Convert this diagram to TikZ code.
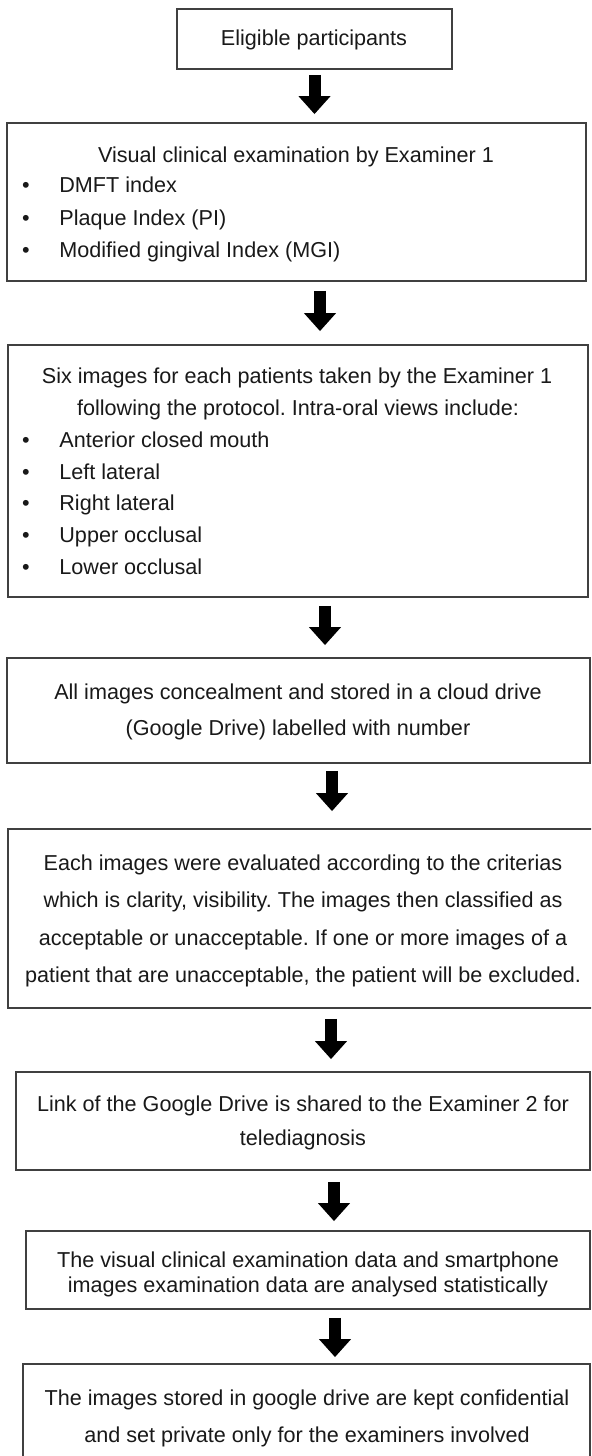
\documentclass[tikz,border=0pt]{standalone}
\usepackage{fontspec}
\setmainfont{Liberation Sans}
\usetikzlibrary{arrows.meta,calc}
\frenchspacing
\begin{document}
\begin{tikzpicture}[x=0.5pt,y=-0.5pt,
  box/.style={draw=black!75, line width=0.9pt, rectangle, inner sep=0pt},
  txt/.style={anchor=base, inner sep=0pt, text=black!90, font=\fontsize{10.8}{13}\selectfont},
  ltxt/.style={txt, anchor=base west},
  bul/.style={txt},
  bigarrow/.style={line width=6pt, black, -{Triangle[width=15.5pt,length=9pt]}}]
\useasboundingbox (0,0) rectangle (591,1456);
\clip (0,0) rectangle (591,1456);
\fill[white] (0,0) rectangle (591,1456);

% boxes
\node[box, minimum width=137.5pt, minimum height=30pt] (b1) at (314.5,39) {};
\node[box, minimum width=289.5pt, minimum height=79pt] (b2) at (296.5,202) {};
\node[box, minimum width=290pt, minimum height=126pt] (b3) at (298,471) {};
\node[box, minimum width=291.5pt, minimum height=52.5pt] (b4) at (298.5,710.5) {};
\node[box, minimum width=296pt, minimum height=89.5pt] (b5) at (304,918.5) {};
\node[box, minimum width=287pt, minimum height=49pt] (b6) at (303,1121) {};
\node[box, minimum width=282pt, minimum height=39pt] (b7) at (308,1270) {};
\node[box, minimum width=283.5pt, minimum height=52pt] (b8) at (306.5,1416) {};

% texts
\node[txt] (t1) at (314,45) {Eligible participants};

\node[txt] (t2) at (296,162) {Visual clinical examination by Examiner 1};
\node[bul] (t2b1) at (26,192) {\textbullet};
\node[ltxt] (t2l1) at (59,192) {DMFT index};
\node[bul] (t2b2) at (26,225) {\textbullet};
\node[ltxt] (t2l2) at (59,225) {Plaque Index (PI)};
\node[bul] (t2b3) at (26,257) {\textbullet};
\node[ltxt] (t2l3) at (59,257) {Modified gingival Index (MGI)};

\node[txt] (t3a) at (297,383) {Six images for each patients taken by the Examiner 1};
\node[txt] (t3b) at (298,415) {following the protocol. Intra-oral views include:};
\node[bul] (t3b1) at (26,447) {\textbullet};
\node[ltxt] (t3l1) at (59,447) {Anterior closed mouth};
\node[bul] (t3b2) at (26,479) {\textbullet};
\node[ltxt] (t3l2) at (59,479) {Left lateral};
\node[bul] (t3b3) at (26,510) {\textbullet};
\node[ltxt] (t3l3) at (59,510) {Right lateral};
\node[bul] (t3b4) at (26,542) {\textbullet};
\node[ltxt] (t3l4) at (59,542) {Upper occlusal};
\node[bul] (t3b5) at (26,574) {\textbullet};
\node[ltxt] (t3l5) at (59,574) {Lower occlusal};

\node[txt] (t4a) at (298,699) {All images concealment and stored in a cloud drive};
\node[txt] (t4b) at (298,735) {(Google Drive) labelled with number};

\node[txt] (t5a) at (303,870) {Each images were evaluated according to the criterias};
\node[txt] (t5b) at (303,907) {which is clarity, visibility. The images then classified as};
\node[txt] (t5c) at (303,945) {acceptable or unacceptable. If one or more images of a};
\node[txt] (t5d) at (303,982) {patient that are unacceptable, the patient will be excluded.};

\node[txt] (t6a) at (303,1111) {Link of the Google Drive is shared to the Examiner 2 for};
\node[txt] (t6b) at (303,1145) {telediagnosis};

\node[txt] (t7a) at (308,1267) {The visual clinical examination data and smartphone};
\node[txt] (t7b) at (308,1292) {images examination data are analysed statistically};

\node[txt] (t8a) at (307,1405) {The images stored in google drive are kept confidential};
\node[txt] (t8b) at (307,1442) {and set private only for the examiners involved};

% arrows
\draw[bigarrow] ($(b1.south)+(0,5)$) -- ($(b2.north)+(18,-8)$);
\draw[bigarrow] ($(b2.south)+(23.5,9)$) -- ($(b3.north)+(22,-13)$);
\draw[bigarrow] ($(b3.south)+(27,8)$) -- ($(b4.north)+(26.5,-12)$);
\draw[bigarrow] ($(b4.south)+(33.5,7)$) -- ($(b5.north)+(28,-17)$);
\draw[bigarrow] ($(b5.south)+(27,10)$) -- ($(b6.north)+(28,-12)$);
\draw[bigarrow] ($(b6.south)+(31,11)$) -- ($(b7.north)+(26,-9)$);
\draw[bigarrow] ($(b7.south)+(27,8)$) -- ($(b8.north)+(28.5,-6)$);
\end{tikzpicture}
\end{document}
